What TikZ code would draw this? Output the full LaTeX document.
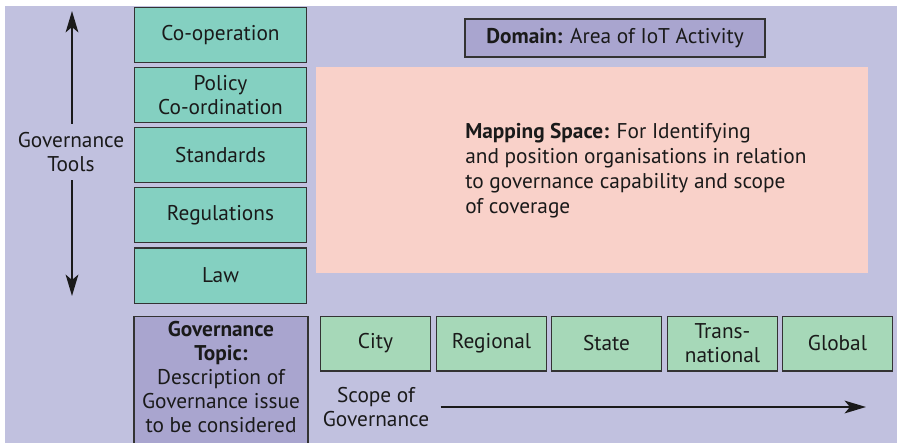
\documentclass[tikz,border=0pt]{standalone}
\usepackage{fontspec}
\setmainfont{PT Sans}
\usetikzlibrary{arrows.meta,positioning}
\definecolor{Lav}{HTML}{C1C1DF}
\definecolor{Teal}{HTML}{84D0C1}
\definecolor{Mint}{HTML}{A6D8B8}
\definecolor{Blush}{HTML}{F9D1C9}
\definecolor{Violet}{HTML}{A9A5CF}
\definecolor{Edge}{HTML}{333333}
\definecolor{Ink}{HTML}{1A1A1A}

\begin{document}
\begin{tikzpicture}[x=0.75pt,y=-0.75pt,
    every node/.style={text=Ink,font=\fontsize{16}{18}\selectfont},
    toolbox/.style={draw=Edge,line width=1pt,fill=Teal,align=center,
      minimum width=129pt,minimum height=41.5pt,inner sep=0pt},
    scopebox/.style={draw=Edge,line width=1pt,fill=Mint,align=center,
      minimum width=82.5pt,minimum height=41pt,inner sep=0pt},
    bigarrow/.style={-{Stealth[length=16pt,width=9.5pt,inset=4pt]},
      line width=1.8pt,Ink}]
  \useasboundingbox (0,0) rectangle (897,443);
  \clip (0,0) rectangle (897,443);
  \fill[Lav] (5,6) rectangle (897,443);

  % tools column
  \foreach \name/\y/\lab in {coop/35/Co-operation,
      policy/95/{Policy\\Co-ordination},std/155/Standards,
      reg/215/Regulations,law/275.5/Law}
    \node[toolbox] (\name) at (220.5,\y) {\lab};

  \node[align=center] (tools) at (71,152) {Governance\\Tools};
  \coordinate (toolsup) at (72,11);
  \coordinate (toolsdown) at (72,296);
  \draw[bigarrow] ([yshift=3pt]tools.north -| toolsup) -- (toolsup);
  \draw[bigarrow] ([yshift=-3pt]tools.south -| toolsdown) -- (toolsdown);

  % domain and mapping space
  \node[draw=Edge,line width=1pt,fill=Violet,minimum width=225pt,
    minimum height=28.5pt,inner sep=0pt] (domain) at (615,38)
    {\textbf{Domain:} Area of IoT Activity};
  \node[fill=Blush,minimum width=414pt,minimum height=154.5pt,
    inner sep=0pt] (space) at (592,170) {};
  \node[anchor=west,align=left,inner sep=0pt,
    font=\fontsize{16}{18.75}\selectfont]
    (spacetext) at (465,171)
    {\textbf{Mapping Space:} For Identifying\\
     and position organisations in relation\\
     to governance capability and scope\\
     of coverage};

  % topic
  \node[draw=Edge,line width=1pt,fill=Violet,anchor=north,
    minimum width=130.5pt,minimum height=102pt,inner sep=0pt]
    (topic) at (221,316) {};
  \node[align=center] (topictext) at (221,377)
    {\textbf{Governance}\\\textbf{Topic:}\\Description of\\
     Governance issue\\to be considered};

  % scope row
  \foreach \name/\x/\lab in {city/375.5/City,regional/491.5/Regional,
      state/606.5/State,trans/722.5/{Trans-\\national},
      global/837.5/Global}
    \node[scopebox] (\name) at (\x,343.5) {\lab};

  \node[align=center] (scope) at (376,407) {Scope of\\Governance};
  \coordinate (scopeend) at (866,407);
  \draw[bigarrow] ([xshift=5pt]scope.east) -- (scopeend);
\end{tikzpicture}
\end{document}
